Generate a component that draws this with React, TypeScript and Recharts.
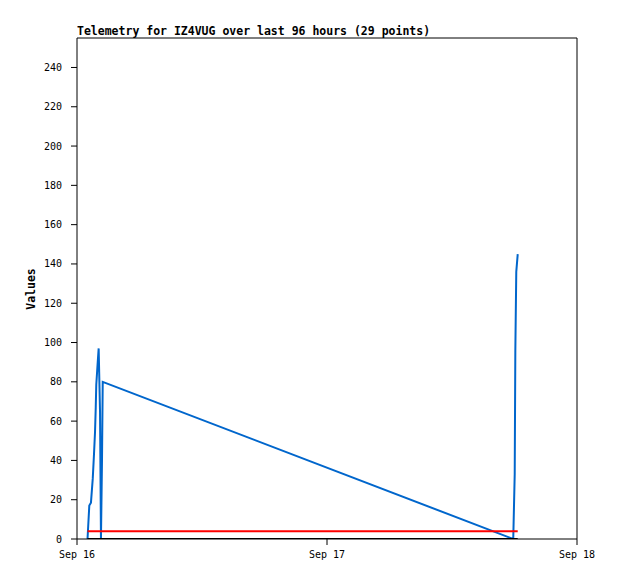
import React from 'react';
import {
  LineChart,
  Line,
  XAxis,
  YAxis,
  ReferenceLine,
} from 'recharts';

// hours since Sep 16 00:00
const hours = [
  1.01, 1.18, 1.34, 1.51, 1.63, 1.73, 1.8, 1.85, 1.99, 2.08, 2.21, 2.3, 2.4, 2.47,
  41.88, 42.02, 42.08, 42.17, 42.31,
];
const channelA = [0, 17, 18.5, 30.6, 43, 54.5, 67, 78.5, 90, 97, 65, 0, 40, 80, 0, 33, 96, 136, 145];
const channelB = [4, 4, 4, 4, 4, 4, 4, 4, 4, 4, 4, 4, 4, 4, 4, 4, 4, 4, 4];
const channelC = [0, 0, 0, 0, 0, 0, 0, 0, 0, 0, 0, 0, 0, 0, 0, 0, 0, 0, 0];

const xTicks = [0, 24, 48];
const xTickLabels = ['Sep 16', 'Sep 17', 'Sep 18'];
const yTicks = [0, 20, 40, 60, 80, 100, 120, 140, 160, 180, 200, 220, 240];

const data = hours.map((t, i) => ({
  t,
  a: channelA[i],
  b: channelB[i],
  c: channelC[i],
}));

const mono = '"DejaVu Sans Mono", monospace';

const App: React.FC = () => {
  return (
    <div style={{ position: 'absolute', left: 0, top: 0, width: 618, height: 579, background: '#fff' }}>
      <div
        style={{
          position: 'absolute',
          left: 77,
          top: 24,
          fontFamily: mono,
          fontWeight: 'bold',
          fontSize: 11.5,
          lineHeight: '14px',
          color: '#000',
          whiteSpace: 'nowrap',
        }}
      >
        Telemetry for IZ4VUG over last 96 hours (29 points)
      </div>
      <LineChart
        width={618}
        height={579}
        data={data}
        margin={{ top: 38, right: 41, bottom: 10, left: 27 }}
      >
        <XAxis
          type="number"
          dataKey="t"
          domain={[0, 48]}
          ticks={xTicks}
          tickFormatter={(v: number) => xTickLabels[xTicks.indexOf(v)] ?? ''}
          height={30}
          tickSize={6}
          tickMargin={6}
          stroke="#000"
          tick={{ fill: '#000', fontSize: 10, fontFamily: mono }}
          allowDataOverflow
        />
        <YAxis
          type="number"
          domain={[0, 255]}
          ticks={yTicks}
          width={50}
          tickSize={6}
          tickMargin={9}
          stroke="#000"
          tick={{ fill: '#000', fontSize: 10, fontFamily: mono }}
          allowDataOverflow
          label={{
            content: () => (
              <text
                x={35}
                y={289}
                transform="rotate(-90 35 289)"
                textAnchor="middle"
                fontFamily={mono}
                fontWeight="bold"
                fontSize={11.5}
                fill="#000"
              >
                Values
              </text>
            ),
          }}
        />
        <ReferenceLine y={255} stroke="#000" strokeWidth={1} />
        <ReferenceLine x={48} stroke="#000" strokeWidth={1} />
        <Line
          type="linear"
          dataKey="a"
          stroke="#0066cc"
          strokeWidth={2}
          dot={false}
          isAnimationActive={false}
        />
        <Line
          type="linear"
          dataKey="b"
          stroke="#ff0000"
          strokeWidth={2}
          dot={false}
          isAnimationActive={false}
        />
        <Line
          type="linear"
          dataKey="c"
          stroke="#000000"
          strokeWidth={2}
          dot={false}
          isAnimationActive={false}
        />
      </LineChart>
    </div>
  );
};

export default App;
